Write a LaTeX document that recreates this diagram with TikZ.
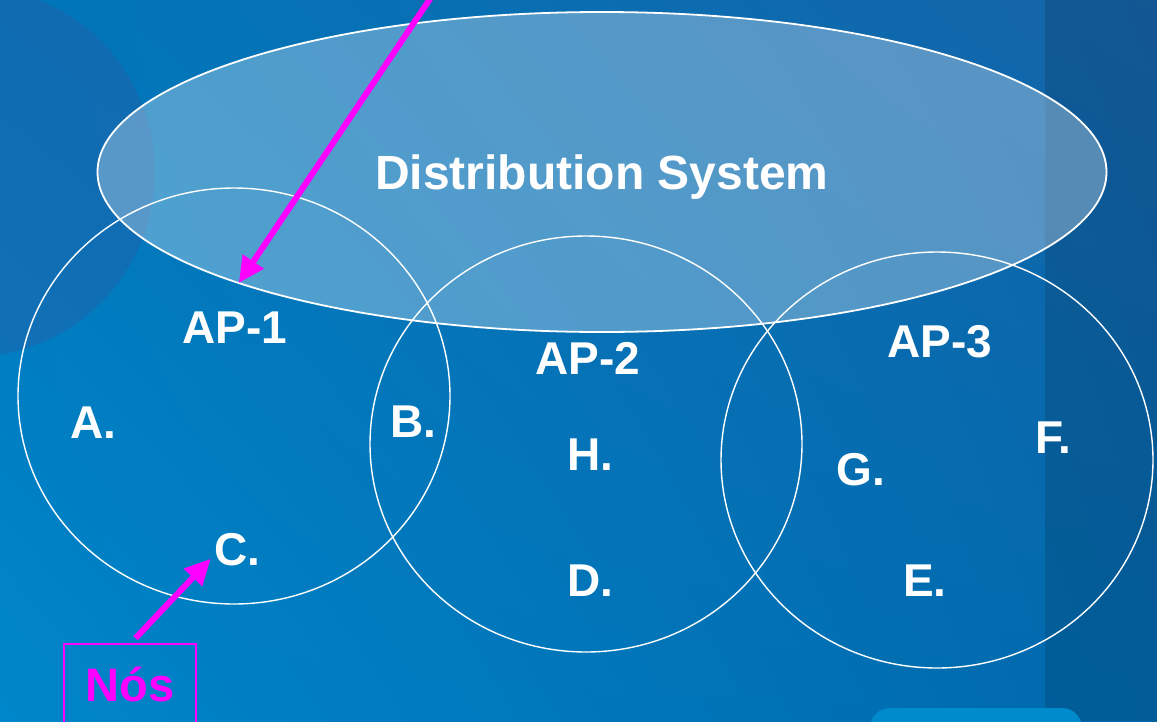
\documentclass[tikz,border=0pt]{standalone}
\usepackage{fontspec}
\setmainfont{Liberation Sans}
\usetikzlibrary{arrows.meta,shapes.geometric,shadings}
\definecolor{bgtl}{RGB}{0,118,186}
\definecolor{bgtr}{RGB}{22,100,168}
\definecolor{bgbl}{RGB}{0,134,202}
\definecolor{bgbr}{RGB}{0,104,172}
\definecolor{blob}{RGB}{40,92,165}
\definecolor{paleband}{RGB}{0,140,204}
\definecolor{nosmag}{RGB}{255,0,255}
\tikzset{
  cell/.style={ellipse, draw=white, line width=1.4pt, minimum width=432pt,
    minimum height=416pt, inner sep=0pt, outer sep=0pt},
  dsys/.style={ellipse, draw=white, line width=1.8pt, fill=white, fill opacity=0.3,
    text opacity=1, text=white, minimum width=1009pt, minimum height=320pt,
    inner sep=0pt, outer sep=0pt, text height=34pt, text depth=0pt,
    font=\bfseries\fontsize{48}{48}\selectfont},
  lbl/.style={text=white, anchor=base, inner sep=0pt,
    font=\bfseries\fontsize{46}{46}\selectfont},
  nosbox/.style={draw=nosmag, line width=1.5pt, text=nosmag, minimum width=132pt,
    minimum height=82pt, inner sep=0pt, outer sep=0pt, text height=33pt, text depth=0pt,
    font=\bfseries\fontsize{47}{47}\selectfont},
  pointer/.style={draw=nosmag, line width=6pt, -{Triangle[length=26pt,width=24pt]}},
}
\begin{document}
\begin{tikzpicture}[x=1pt,y=-1pt]
    \useasboundingbox (0,0) rectangle (1157,721);
    \clip (0,0) rectangle (1157,721);
    % background
    \shade[upper left=bgtl, upper right=bgtr, lower left=bgbl, lower right=bgbr] (0,0) rectangle (1157,721);
    \fill[blob, opacity=0.4] (-30,172) circle (185pt);
    \fill[black, opacity=0.12] (1045,0) rectangle (1157,721);
    \fill[paleband, rounded corners=20pt] (870,708) rectangle (1082,760);
    % the three cells
    \node[cell] (cellone) at (234,396) {};
    \node[cell] (celltwo) at (586,444) {};
    \node[cell] (cellthree) at (937,460) {};
    \node[dsys] (ds) at (602,172) {Distribution System};
    % labels
    \node[lbl] (apone) at (235,343) {AP-1};
    \node[lbl] (aptwo) at (588,374) {AP-2};
    \node[lbl] (apthree) at (940,357) {AP-3};
    \node[lbl] (sa) at (93,438) {A.};
    \node[lbl] (sb) at (413,437) {B.};
    \node[lbl] (sc) at (237,565) {C.};
    \node[lbl] (sh) at (590,470) {H.};
    \node[lbl] (sd) at (590,596) {D.};
    \node[lbl] (sg) at (861,485) {G.};
    \node[lbl] (se) at (925,596) {E.};
    \node[lbl] (sf) at (1053,453) {F.};
    \node[nosbox] (nos) at (130,685) {Nós};
    % pointers
    \coordinate (feed) at (436,-10);
    \draw[pointer] (feed) -- (ds.197.6);
    \draw[pointer, shorten <=8pt] (nos.north) -- ([shift={(-3,-7)}]sc.south west);
\end{tikzpicture}
\end{document}
